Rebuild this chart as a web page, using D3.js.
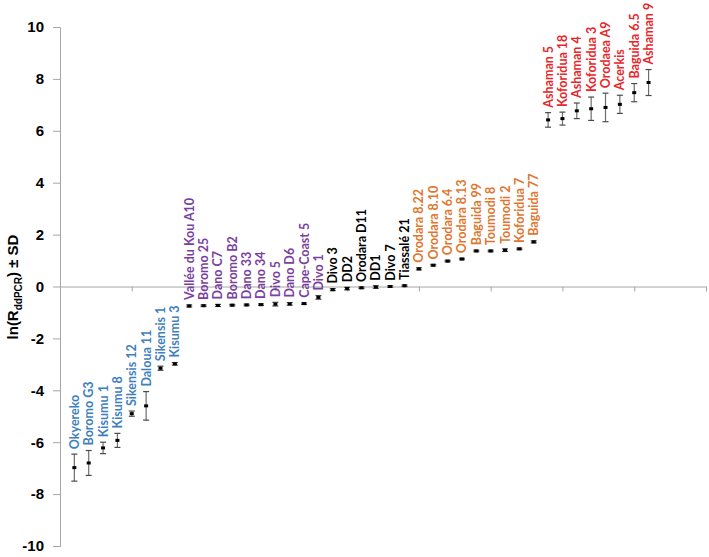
<!doctype html>
<html>
<head>
<meta charset="utf-8" />
<title>ln(R ddPCR) by strain</title>
<script src="https://cdn.jsdelivr.net/npm/d3@7"></script>
<style>
  html, body { margin: 0; padding: 0; background: #fff; }
  svg { display: block; }
  .tick text { font-family: "Liberation Sans", Arial, sans-serif; font-weight: bold; font-size: 15px; fill: #000; }
</style>
</head>
<body>
<div id="chart"></div>
<script>
// strain names, left to right
var strains = ["Okyereko", "Boromo G3", "Kisumu 1", "Kisumu 8", "Sikensis 12", "Daloua 11", "Sikensis 1", "Kisumu 3",
  "Vallée du Kou A10", "Boromo 25", "Dano C7", "Boromo B2", "Dano 33", "Dano 34", "Divo 5", "Dano D6", "Cape-Coast 5", "Divo 1",
  "Divo 3", "DD2", "Orodara D11", "DD1", "Divo 7", "Tiassalé 21",
  "Orodara 8.22", "Orodara 8.10", "Orodara 6.4", "Orodara 8.13", "Baguida 99", "Toumodi 8", "Toumodi 2", "Koforidua 7", "Baguida 77",
  "Ashaman 5", "Koforidua 18", "Ashaman 4", "Koforidua 3", "Orodaea A9", "Acerkis", "Baguida 6.5", "Ashaman 9"];
// ln(R ddPCR)
var lnR = [-6.98, -6.8, -6.22, -5.93, -4.9, -4.6, -3.15, -2.98,
  -0.75, -0.74, -0.73, -0.72, -0.71, -0.7, -0.68, -0.67, -0.66, -0.42,
  -0.12, -0.08, -0.05, -0.02, 0.0, 0.03,
  0.68, 0.82, 0.98, 1.06, 1.37, 1.37, 1.4, 1.45, 1.72,
  6.42, 6.47, 6.77, 6.85, 6.9, 7.02, 7.47, 7.86];
// standard deviation
var sd = [0.52, 0.48, 0.22, 0.27, 0.1, 0.55, 0.08, 0.05,
  0.04, 0.03, 0.04, 0.03, 0.03, 0.03, 0.07, 0.05, 0.03, 0.07,
  0.04, 0.05, 0.03, 0.05, 0.03, 0.03,
  0.04, 0.03, 0.03, 0.03, 0.03, 0.03, 0.05, 0.03, 0.04,
  0.28, 0.25, 0.3, 0.45, 0.55, 0.35, 0.35, 0.5];
// group of each strain
var group = [0,0,0,0,0,0,0,0, 1,1,1,1,1,1,1,1,1,1, 2,2,2,2,2,2, 3,3,3,3,3,3,3,3,3, 4,4,4,4,4,4,4,4];
var groupColor = ["#3f7fbf", "#7b3fa0", "#000000", "#e0772f", "#e8262b"];
var yTicks = [-10, -8, -6, -4, -2, 0, 2, 4, 6, 8, 10];
var xTicks = [0, 5, 10, 15, 20, 25, 30, 35, 40, 45];

var W = 709, H = 557;
var svg = d3.select("#chart").append("svg").attr("width", W).attr("height", H);

var x = d3.scaleLinear().domain([0, 45]).range([60, 706]);
var y = d3.scaleLinear().domain([-10, 10]).range([546, 27]);

var axisColor = "#a6a6a6";

// y axis
var ya = svg.append("g").attr("transform", "translate(" + x(0) + ",0)")
  .call(d3.axisLeft(y).tickValues(yTicks).tickSize(7).tickPadding(9).tickFormat(d3.format("d")));
ya.select(".domain").attr("stroke", axisColor);
ya.selectAll(".tick line").attr("stroke", axisColor);
ya.selectAll(".tick text").text(function(d) { return d < 0 ? "-" + Math.abs(d) : d; });

// x axis at zero
var xa = svg.append("g").attr("transform", "translate(0," + y(0) + ")")
  .call(d3.axisBottom(x).tickValues(xTicks).tickSize(5).tickSizeOuter(0).tickFormat(""));
xa.select(".domain").attr("stroke", axisColor);
xa.selectAll(".tick line").attr("stroke", axisColor);

// axis title
var title = svg.append("text")
  .attr("transform", "translate(18," + 287 + ") rotate(-90)")
  .attr("text-anchor", "middle")
  .style("font-family", "Liberation Sans, Arial, sans-serif")
  .style("font-weight", "bold")
  .style("font-size", "15px");
title.append("tspan").text("ln(R");
title.append("tspan").attr("dy", 4).style("font-size", "10px").text("ddPCR");
title.append("tspan").attr("dy", -4).text(") ± SD");

var idx = d3.range(strains.length);
var pts = svg.append("g").selectAll("g").data(idx).join("g");

// error bars
pts.append("line")
  .attr("x1", function(i) { return x(i + 1); }).attr("x2", function(i) { return x(i + 1); })
  .attr("y1", function(i) { return y(lnR[i] - sd[i]); }).attr("y2", function(i) { return y(lnR[i] + sd[i]); })
  .attr("stroke", "#6e6e6e").attr("stroke-width", 1.2);
[-1, 1].forEach(function(s) {
  pts.append("line")
    .attr("x1", function(i) { return x(i + 1) - 3; }).attr("x2", function(i) { return x(i + 1) + 3; })
    .attr("y1", function(i) { return y(lnR[i] + s * sd[i]); }).attr("y2", function(i) { return y(lnR[i] + s * sd[i]); })
    .attr("stroke", "#4a4a4a").attr("stroke-width", 1.2);
});

// markers
pts.append("rect")
  .attr("x", function(i) { return x(i + 1) - 2; })
  .attr("y", function(i) { return y(lnR[i]) - 1.5; })
  .attr("width", 4).attr("height", 3)
  .attr("fill", "#000");

// labels
pts.append("text")
  .attr("transform", function(i) {
    return "translate(" + (x(i + 1) + 4.5) + "," + (y(lnR[i] + sd[i]) - 5) + ") rotate(-90)";
  })
  .style("font-family", "Lato, Open Sans, sans-serif")
  .style("font-weight", "bold")
  .style("font-size", "12.5px")
  .attr("fill", function(i) { return groupColor[group[i]]; })
  .text(function(i) { return strains[i]; });
</script>
</body>
</html>
